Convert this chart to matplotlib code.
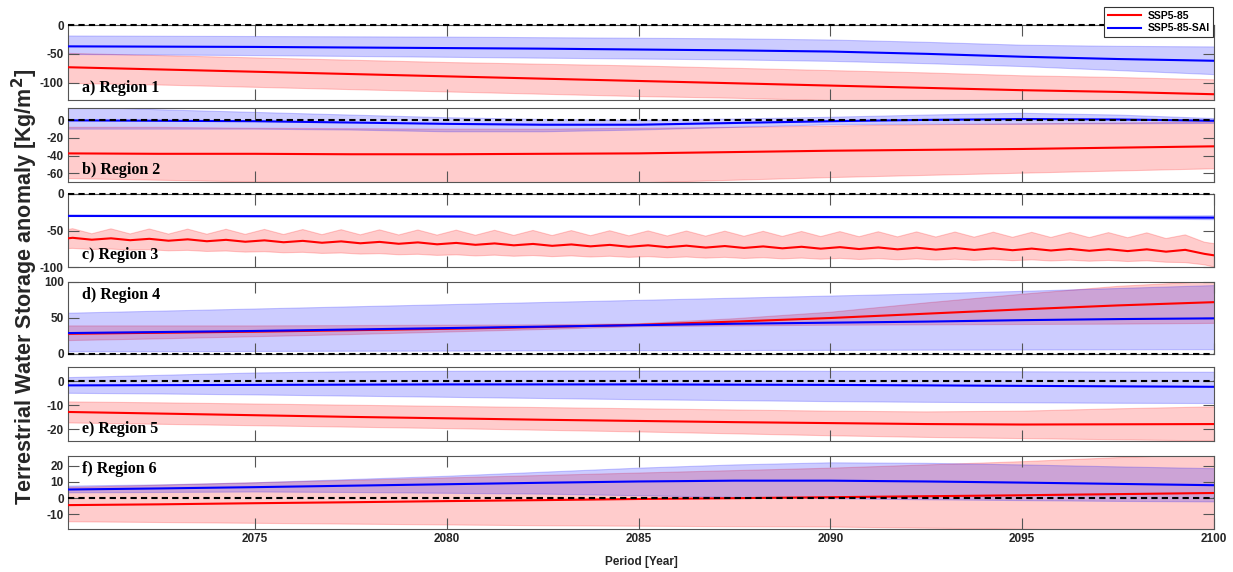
import matplotlib
matplotlib.use("Agg")
import matplotlib.pyplot as plt
from matplotlib.lines import Line2D
import numpy as np

plt.rcParams["axes.unicode_minus"] = False

# sample years (2.5 yr step) for the smooth panels
years = [2070, 2072.5, 2075, 2077.5, 2080, 2082.5, 2085, 2087.5, 2090, 2092.5, 2095, 2097.5, 2100]

# a) Region 1
r1_ssp = [-73, -77, -81, -85, -89, -93, -97, -101, -105, -109, -113, -116, -120]
r1_ssp_hi = [-49, -53, -57, -61, -65, -68, -71, -75, -79, -83, -88, -91, -95]
r1_ssp_lo = [-101, -104, -108, -112, -116, -120, -124, -127, -131, -134, -137, -140, -143]
r1_sai = [-37, -37.5, -38, -39, -40, -41, -42.5, -44, -46, -50, -55, -59, -62]
r1_sai_hi = [-19, -19.5, -20, -20.5, -21, -22, -23, -24, -26, -30, -35, -37, -38]
r1_sai_lo = [-51, -52, -53, -54.5, -56, -57.5, -59, -60.5, -63, -67, -72, -79, -86]

# b) Region 2
r2_ssp = [-37.5, -38, -38, -38.5, -38.5, -38, -37.5, -36, -34.5, -33.5, -32.5, -31, -29.5]
r2_ssp_hi = [-8, -8, -9, -9.5, -10, -10, -9, -8, -6.5, -5, -4, -3, -2]
r2_ssp_lo = [-66, -68, -70, -71, -72, -72, -71, -68, -65, -62.5, -60, -57.5, -55]
r2_sai = [0, -0.5, -1, -2.5, -4, -5, -5, -3, -1, 0.5, 1.5, 1, -0.5]
r2_sai_hi = [16, 12, 9, 6, 3, 1, 0, 1.5, 3.5, 6, 8, 6, 2]
r2_sai_lo = [-10, -10, -10, -11, -13, -13, -11, -8, -5, -4.5, -4.5, -4, -3.5]

# c) Region 3 : SSP5-85 has a yearly cycle -> values at year+0.25 (peak) and year+0.75 (trough)
c_years = list(range(2070, 2100))
r3_ssp_start, r3_ssp_end = -61.5, -84
r3_ssp_peak = [-60.0, -60.7, -61.4, -62.1, -62.8, -63.5, -64.2, -64.9, -65.6, -66.3,
               -67.0, -67.7, -68.4, -69.1, -69.7, -70.3, -70.8, -71.3, -71.8, -72.3,
               -72.8, -73.2, -73.6, -74.0, -74.4, -74.8, -75.2, -75.6, -75.8, -76.5]
r3_ssp_trough = [-62.6, -63.3, -64.0, -64.7, -65.4, -66.1, -66.8, -67.5, -68.2, -68.9,
                 -69.6, -70.3, -71.0, -71.7, -72.3, -72.9, -73.4, -73.9, -74.4, -74.9,
                 -75.4, -75.8, -76.2, -76.6, -77.0, -77.4, -77.8, -78.2, -79.0, -82.0]
r3_hi_start, r3_hi_end = -50, -68
r3_hi_peak = [-47.5, -47.7, -47.9, -48.1, -48.3, -48.5, -48.7, -48.9, -49.1, -49.3,
              -49.5, -49.7, -49.9, -50.1, -50.3, -50.5, -50.7, -50.9, -51.1, -51.3,
              -51.5, -51.7, -51.9, -52.1, -52.3, -52.5, -52.7, -52.9, -53.2, -56.0]
r3_hi_trough = [-54.5, -54.7, -54.9, -55.1, -55.3, -55.5, -55.7, -55.9, -56.1, -56.3,
                -56.5, -56.7, -56.9, -57.1, -57.3, -57.5, -57.7, -57.9, -58.1, -58.3,
                -58.5, -58.7, -58.9, -59.1, -59.3, -59.5, -59.7, -59.9, -61.0, -66.0]
r3_lo_start, r3_lo_end = -75, -100
r3_lo_peak = [-74.5, -75.4, -76.3, -77.2, -78.1, -79.0, -79.9, -80.8, -81.7, -82.6,
              -83.3, -83.8, -84.3, -84.8, -85.3, -85.8, -86.3, -86.8, -87.3, -87.8,
              -88.2, -88.6, -89.0, -89.4, -89.8, -90.2, -90.6, -91.0, -91.5, -94.0]
r3_lo_trough = [-76.0, -76.9, -77.8, -78.7, -79.6, -80.5, -81.4, -82.3, -83.2, -84.1,
                -84.8, -85.3, -85.8, -86.3, -86.8, -87.3, -87.8, -88.3, -88.8, -89.3,
                -89.7, -90.1, -90.5, -90.9, -91.3, -91.7, -92.1, -92.5, -93.5, -97.0]
r3_sai = [-30, -30.2, -30.4, -30.6, -30.8, -31, -31.2, -31.4, -31.6, -31.8, -32, -32.2, -32.4]
r3_sai_hi = [-29, -29.2, -29.4, -29.6, -29.8, -30, -30.2, -30.4, -30.6, -30.8, -31, -30.5, -29.8]
r3_sai_lo = [-31, -31.2, -31.4, -31.6, -31.8, -32, -32.2, -32.4, -32.6, -32.8, -33, -34, -35.2]

# d) Region 4
r4_ssp = [28, 29.5, 31, 33, 35, 37.5, 40.5, 45, 50, 56, 62, 67.5, 72]
r4_ssp_hi = [39, 39, 39, 39.5, 40, 40.5, 42, 49, 58, 71, 83, 94, 101]
r4_ssp_lo = [18.5, 21, 24, 27, 30.5, 34, 38, 39, 40, 40.5, 41, 41.5, 42.5]
r4_sai = [29, 30.5, 32, 34, 36, 38, 40, 42, 43.5, 45, 47, 48.5, 49.5]
r4_sai_hi = [56.5, 59.5, 62.5, 65.5, 68.5, 71.5, 74.5, 77.5, 80.5, 83.5, 87, 91, 95]
r4_sai_lo = [3, 3.2, 3.5, 3.8, 4, 4.3, 4.5, 4.8, 5, 5.3, 5.5, 5.8, 6]

# e) Region 5
r5_ssp = [-12.8, -13.5, -14.2, -14.9, -15.5, -16.1, -16.6, -17.1, -17.5, -17.9, -18.1, -18.0, -17.9]
r5_ssp_hi = [-8.6, -9.0, -9.5, -10.0, -10.5, -11.0, -11.5, -12.0, -12.5, -12.8, -12.5, -11.5, -10.7]
r5_ssp_lo = [-17.4, -18, -18.6, -19.2, -19.8, -20.5, -21.2, -22, -22.8, -23.5, -24, -24.5, -25]
r5_sai = [-1.7, -1.6, -1.5, -1.4, -1.3, -1.3, -1.3, -1.4, -1.5, -1.7, -1.9, -2.1, -2.3]
r5_sai_hi = [1.5, 2.5, 3.5, 4.0, 4.2, 4.3, 4.3, 4.3, 4.2, 4.1, 4.0, 3.9, 3.8]
r5_sai_lo = [-5, -5.3, -5.7, -6.2, -6.7, -7.2, -7.7, -8.1, -8.5, -8.8, -9.0, -9.2, -9.3]

# f) Region 6
r6_ssp = [-4.3, -3.8, -3.1, -2.5, -1.8, -1.2, -0.5, 0, 0.6, 1.2, 1.8, 2.5, 3.2]
r6_ssp_hi = [6.5, 8, 9.5, 11, 12.5, 14, 15.5, 17, 18.5, 20.5, 22.5, 25, 27]
r6_ssp_lo = [-14.5, -15, -15.5, -16, -16.5, -17, -17.3, -17.6, -17.8, -18.5, -19.2, -20, -21]
r6_sai = [5.3, 6.0, 6.8, 7.7, 8.6, 9.5, 10.3, 10.8, 10.8, 10.3, 9.6, 8.8, 8.0]
r6_sai_hi = [7.4, 8.2, 9.5, 11.5, 13.5, 16, 18.5, 20.5, 21.8, 21.5, 20.5, 19.3, 18.2]
r6_sai_lo = [3.3, 3.5, 3.8, 3.5, 3, 2.5, 1.5, 0.5, -0.3, -1, -1.5, -2, -2.3]

labels = ["a) Region 1", "b) Region 2", "c) Region 3", "d) Region 4", "e) Region 5", "f) Region 6"]
ylims = [(-130, 0), (-70, 14), (-100, 0), (0, 100), (-25, 6), (-19, 26)]
yticks = [[-100, -50, 0], [-60, -40, -20, 0], [-100, -50, 0], [0, 50, 100], [-20, -10, 0], [-10, 0, 10, 20]]
xticks = [2075, 2080, 2085, 2090, 2095, 2100]
series_names = ["SSP5-85", "SSP5-85-SAI"]

# panel boxes in pixel rows (top, bottom) of a 1233x572 figure
rows = [(25, 100), (108, 182), (194, 267), (282, 354), (367, 441), (456, 529)]
label_top = [False, False, False, True, False, True]

RED = "#ff0000"
BLUE = "#0000ff"
TICK_COL = "#262626"
SANS = "Liberation Sans"
SERIF = "Liberation Serif"


def band(ax, x, lo, hi, color):
    ax.fill_between(x, lo, hi, facecolor=color, alpha=0.2, edgecolor="none", zorder=1)
    ax.plot(x, lo, color=color, alpha=0.2, lw=0.8, zorder=1)
    ax.plot(x, hi, color=color, alpha=0.2, lw=0.8, zorder=1)


def region3_series(start, peak, trough, end):
    x = [2070.0]
    y = [start]
    for yr, p, t in zip(c_years, peak, trough):
        x += [yr + 0.25, yr + 0.75]
        y += [p, t]
    x.append(2100.0)
    y.append(end)
    return np.array(x), np.array(y)


def style_axes(ax, i):
    ax.set_xlim(2070.13, 2100)
    ax.set_ylim(*ylims[i])
    ax.set_xticks(xticks)
    ax.set_yticks(yticks[i])
    ax.tick_params(direction="in", length=8, width=0.8, color="#555555",
                   top=True, right=True, labelsize=8.5, labelcolor=TICK_COL, pad=3)
    for lab in ax.get_xticklabels() + ax.get_yticklabels():
        lab.set_fontweight("bold")
        lab.set_family(SANS)
    if i < 5:
        ax.set_xticklabels([])
    for sp in ax.spines.values():
        sp.set_color("#555555")
        sp.set_linewidth(0.8)
    ax.axhline(0, color="k", lw=1.5, dashes=(3, 2), zorder=5, clip_on=False)
    if label_top[i]:
        ax.text(0.012, 0.93, labels[i], transform=ax.transAxes, ha="left", va="top",
                fontsize=11.5, fontweight="bold", family=SERIF, zorder=6)
    else:
        ax.text(0.012, 0.05, labels[i], transform=ax.transAxes, ha="left", va="bottom",
                fontsize=11.5, fontweight="bold", family=SERIF, zorder=6)


def main():
    W, H = 1233, 572
    fig = plt.figure(figsize=(W / 100, H / 100), dpi=100)
    left, right = 68 / W, 1214 / W

    data = [
        (r1_ssp, r1_ssp_lo, r1_ssp_hi, r1_sai, r1_sai_lo, r1_sai_hi),
        (r2_ssp, r2_ssp_lo, r2_ssp_hi, r2_sai, r2_sai_lo, r2_sai_hi),
        None,
        (r4_ssp, r4_ssp_lo, r4_ssp_hi, r4_sai, r4_sai_lo, r4_sai_hi),
        (r5_ssp, r5_ssp_lo, r5_ssp_hi, r5_sai, r5_sai_lo, r5_sai_hi),
        (r6_ssp, r6_ssp_lo, r6_ssp_hi, r6_sai, r6_sai_lo, r6_sai_hi),
    ]

    for i, (top, bot) in enumerate(rows):
        ax = fig.add_axes([left, 1 - bot / H, right - left, (bot - top) / H])
        if i == 2:
            xs, ys = region3_series(r3_ssp_start, r3_ssp_peak, r3_ssp_trough, r3_ssp_end)
            _, hi = region3_series(r3_hi_start, r3_hi_peak, r3_hi_trough, r3_hi_end)
            _, lo = region3_series(r3_lo_start, r3_lo_peak, r3_lo_trough, r3_lo_end)
            band(ax, xs, lo, hi, RED)
            band(ax, years, r3_sai_lo, r3_sai_hi, BLUE)
            ax.plot(xs, ys, color=RED, lw=1.5, zorder=3)
            ax.plot(years, r3_sai, color=BLUE, lw=1.5, zorder=3)
        else:
            ssp, ssp_lo, ssp_hi, sai, sai_lo, sai_hi = data[i]
            band(ax, years, ssp_lo, ssp_hi, RED)
            band(ax, years, sai_lo, sai_hi, BLUE)
            ax.plot(years, ssp, color=RED, lw=1.5, zorder=3)
            ax.plot(years, sai, color=BLUE, lw=1.5, zorder=3)
        style_axes(ax, i)
        if i == 5:
            ax.set_xlabel("Period [Year]", fontsize=8.5, fontweight="bold",
                          family=SANS, color=TICK_COL, labelpad=8)

    fig.text(0.020, 0.498, r"Terrestrial Water Storage anomaly [Kg/m$^\mathbf{2}$]",
             rotation=90, ha="center", va="center", fontsize=15.5, fontweight="bold",
             family=SANS, color=TICK_COL)

    handles = [Line2D([], [], color=RED, lw=1.5), Line2D([], [], color=BLUE, lw=1.5)]
    leg = fig.legend(handles, series_names, loc="upper right",
                     bbox_to_anchor=(1213 / W, 1 - 7 / H), borderaxespad=0,
                     fancybox=False, framealpha=1,
                     edgecolor="#333333", prop={"family": SANS, "weight": "bold", "size": 7.5},
                     handlelength=3.2, borderpad=0.35, labelspacing=0.25, handletextpad=0.6)
    leg.get_frame().set_linewidth(0.8)
    leg.set_zorder(10)

    fig.savefig("out.png", dpi=100)


if __name__ == "__main__":
    main()
